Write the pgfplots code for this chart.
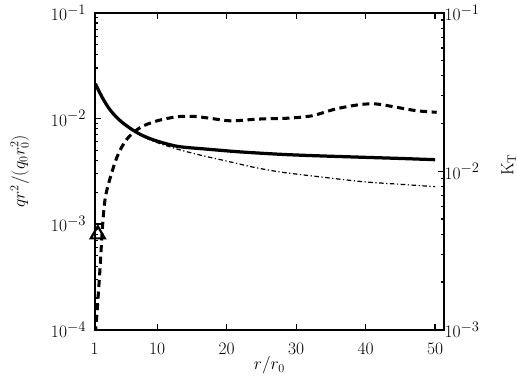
\documentclass[border=0pt]{standalone}
\usepackage{pgfplots}
\pgfplotsset{compat=1.18}
\newcommand{\tl}[1]{$10^{\hbox{\fontsize{15}{17}\selectfont$#1$}}$}
\begin{document}
\begin{tikzpicture}
\pgfplotsset{
  every axis/.append style={
    width=345pt, height=313pt, scale only axis,
    xmin=1, xmax=51.3,
    axis line style={line width=2pt},
    tick style={black, line width=1.2pt},
    major tick length=6pt, minor tick length=3.5pt,
    tick align=inside,
    tick label style={font=\fontsize{17.5}{20}\selectfont},
    label style={font=\fontsize{17.5}{20}\selectfont},
  }
}
\begin{axis}[
    ymode=log, ymin=1e-4, ymax=1e-1,
    ytick={1e-4,1e-3,1e-2,1e-1},
    yticklabels={\tl{-4},\tl{-3},\tl{-2},\tl{-1}},
    ytick pos=left,
    yticklabel style={xshift=-5pt},
    xtick={1,10,20,30,40,50},
    xticklabel style={yshift=-10pt},
    minor x tick num=9,
    xlabel={$r/r_0$},
    ylabel={$qr^2/(q_0r_0^2)$},
    xlabel style={at={(axis description cs:0.5,-0.112)}, anchor=center},
    ylabel style={at={(axis description cs:-0.2145,0.5)}, anchor=center},
    clip=true,
]
% solid
\addplot[black, line width=3.2pt, smooth] coordinates {
  (1.1,0.0213) (2,0.0162) (3,0.0126) (4,0.0105) (5,0.00912)
  (6.5,0.00776) (8,0.00684) (10,0.00610) (13,0.00543) (17,0.00513)
  (22,0.00482) (27.9,0.00457) (33,0.00443) (39.6,0.00429)
  (45,0.00418) (50,0.00407)
};
% dash-dot
\addplot[black, line width=1.2pt, dash pattern=on 4.5pt off 2.5pt on 1.2pt off 2.5pt, smooth] coordinates {
  (1.1,0.0213) (2,0.0162) (3,0.0126) (4,0.0105) (5,0.00912)
  (6.5,0.00770) (8,0.00670) (10,0.00590) (13,0.00510)
  (16.3,0.00448) (20,0.00395) (24,0.00344) (27.9,0.00310) (33,0.00282)
  (39.6,0.00252) (45,0.00238) (50,0.00226)
};
% triangle
\addplot[black, only marks, mark=triangle, mark size=8pt, mark options={line width=2.2pt}] coordinates {(1.45,0.00080)};
\end{axis}
\begin{axis}[
    ymode=log, ymin=1e-3, ymax=1e-1,
    ytick={1e-3,1e-2,1e-1},
    yticklabels={\tl{-3},\tl{-2},\tl{-1}},
    yticklabel style={xshift=-3pt},
    axis y line*=right,
    axis x line=none,
    ylabel={$\mathrm{K_T}$},
    ylabel style={at={(axis description cs:1.185,0.52)}, anchor=center, inner sep=0pt},
]
% dashed K_T
\addplot[black, line width=3pt, dash pattern=on 7pt off 4.5pt, smooth] coordinates {
  (1.05,0.00080) (1.15,0.00100) (1.33,0.00127) (1.73,0.00229) (2.21,0.00502)
  (2.70,0.00743) (4.16,0.01213) (5.61,0.01589) (7.55,0.01887) (9.98,0.02080)
  (12.89,0.02208) (15.31,0.02219) (17.49,0.02163) (20.65,0.02080)
  (24.54,0.02134) (28.90,0.02163) (32.30,0.02240) (35.69,0.02471)
  (39.09,0.02631) (41.51,0.02659) (44.42,0.02535) (47.33,0.02410) (50.24,0.02355)
};
\end{axis}
\path (current bounding box.south) ++(0,-8pt) (current bounding box.east) ++(1pt,0)
      (current bounding box.west) ++(-7pt,0) (current bounding box.north) ++(0,1.5pt);
\end{tikzpicture}
\end{document}
